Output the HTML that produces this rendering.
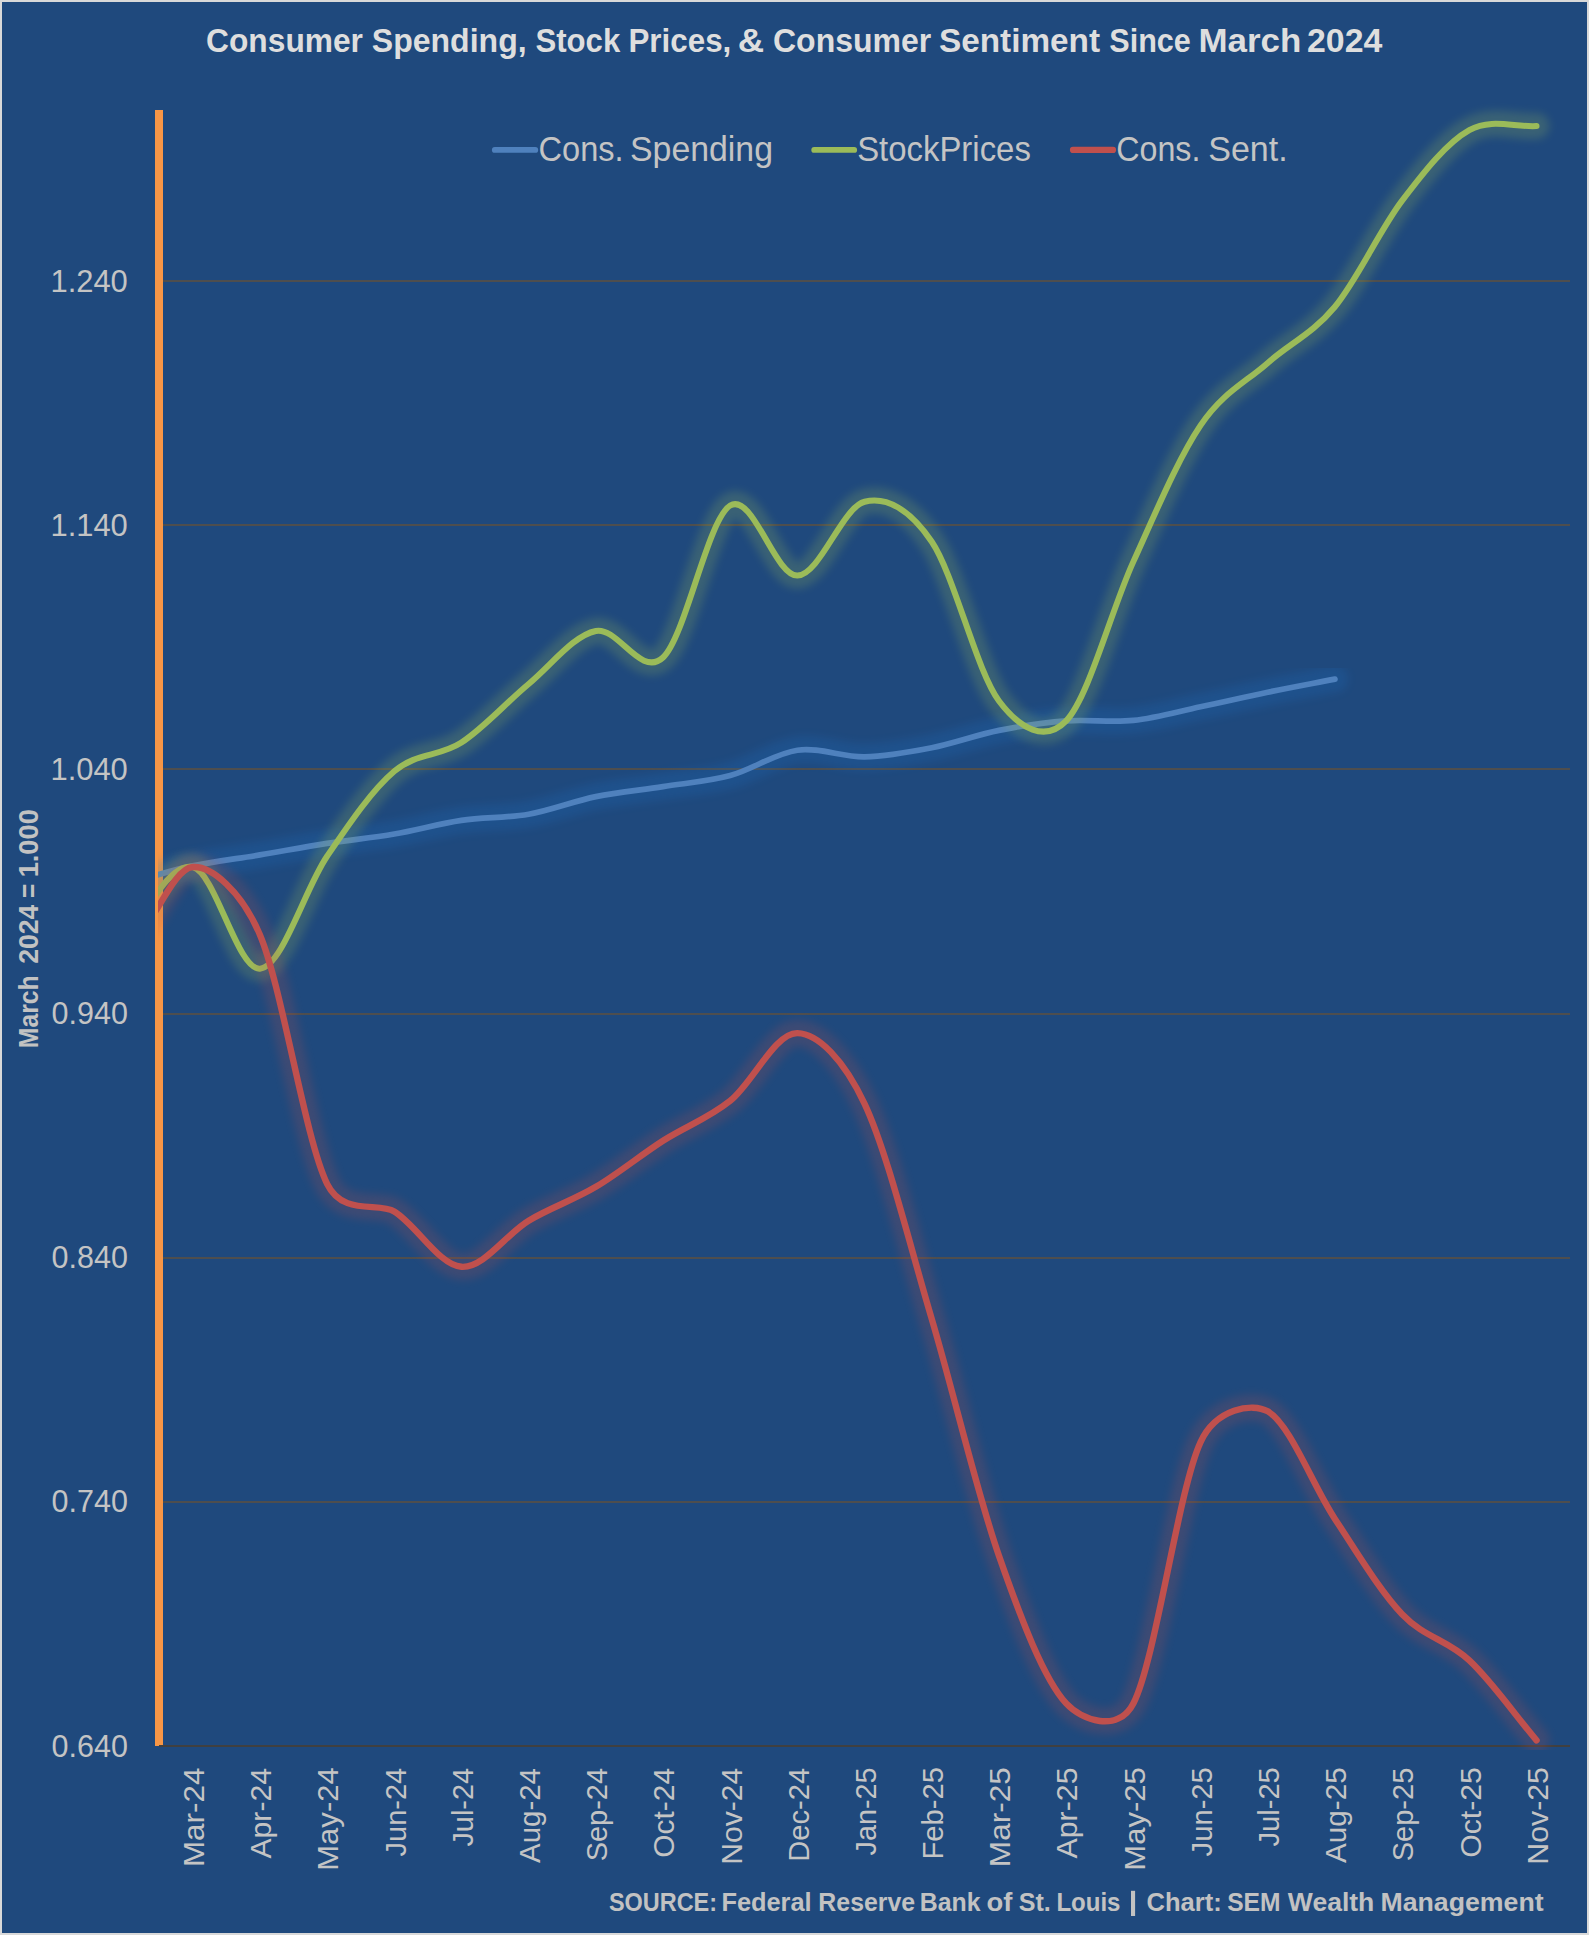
<!DOCTYPE html>
<html><head><meta charset="utf-8"><title>Consumer Spending, Stock Prices, &amp; Consumer Sentiment Since March 2024</title>
<style>
html,body{margin:0;padding:0;background:#1F497D;}
body{width:1589px;height:1935px;overflow:hidden;font-family:"Liberation Sans",sans-serif;}
svg{display:block;position:absolute;left:0;top:0;}
text{font-family:"Liberation Sans",sans-serif;}
</style></head><body>
<svg width="1589" height="1935" viewBox="0 0 1589 1935">
<defs>
<clipPath id="plot"><rect x="158.1" y="60" width="1440" height="1690"/></clipPath>
<filter id="blurG" x="-5%" y="-5%" width="110%" height="110%" filterUnits="objectBoundingBox"><feGaussianBlur stdDeviation="4.2"/></filter>
</defs>
<rect x="0" y="0" width="1589" height="1935" fill="#D9D9D9"/>
<rect x="2" y="2" width="1585" height="1931" fill="#1F497D"/>

<g fill="#4E4E4E" shape-rendering="crispEdges">
<rect x="163" y="280" width="1407" height="2"/>
<rect x="163" y="524" width="1407" height="2"/>
<rect x="163" y="768" width="1407" height="2"/>
<rect x="163" y="1013" width="1407" height="2"/>
<rect x="163" y="1257" width="1407" height="2"/>
<rect x="163" y="1501" width="1407" height="2"/>
</g>
<rect x="155" y="110" width="8" height="1636" fill="#F79646"/>
<rect x="159" y="1745" width="1411" height="2" fill="#404040"/>
<g clip-path="url(#plot)">
<path d="M58.32,895.00 C80.72,891.00 103.11,887.85 125.51,883.00 C147.91,878.15 170.30,870.58 192.70,865.90 C215.10,861.22 237.49,858.65 259.89,854.90 C282.29,851.15 304.68,846.88 327.08,843.40 C349.48,839.92 371.87,837.83 394.27,834.00 C416.67,830.17 439.06,823.70 461.46,820.40 C483.86,817.10 506.25,818.17 528.65,814.20 C551.05,810.23 573.44,801.20 595.84,796.60 C618.24,792.00 640.63,790.10 663.03,786.60 C685.43,783.10 707.82,781.67 730.22,775.60 C752.62,769.53 775.01,753.33 797.41,750.20 C819.81,747.07 842.20,757.22 864.60,756.80 C887.00,756.38 909.39,752.10 931.79,747.70 C954.19,743.30 976.58,734.87 998.98,730.40 C1021.38,725.93 1043.77,722.57 1066.17,720.90 C1088.57,719.23 1110.96,722.75 1133.36,720.40 C1155.76,718.05 1178.15,711.50 1200.55,706.80 C1222.95,702.10 1245.34,696.82 1267.74,692.20 C1290.14,687.58 1312.53,683.47 1334.93,679.10" fill="none" stroke="#1C74CC" stroke-width="27" stroke-linecap="round" stroke-linejoin="round" opacity="0.19" filter="url(#blurG)"/>
<path d="M58.32,895.00 C80.72,891.00 103.11,887.85 125.51,883.00 C147.91,878.15 170.30,870.58 192.70,865.90 C215.10,861.22 237.49,858.65 259.89,854.90 C282.29,851.15 304.68,846.88 327.08,843.40 C349.48,839.92 371.87,837.83 394.27,834.00 C416.67,830.17 439.06,823.70 461.46,820.40 C483.86,817.10 506.25,818.17 528.65,814.20 C551.05,810.23 573.44,801.20 595.84,796.60 C618.24,792.00 640.63,790.10 663.03,786.60 C685.43,783.10 707.82,781.67 730.22,775.60 C752.62,769.53 775.01,753.33 797.41,750.20 C819.81,747.07 842.20,757.22 864.60,756.80 C887.00,756.38 909.39,752.10 931.79,747.70 C954.19,743.30 976.58,734.87 998.98,730.40 C1021.38,725.93 1043.77,722.57 1066.17,720.90 C1088.57,719.23 1110.96,722.75 1133.36,720.40 C1155.76,718.05 1178.15,711.50 1200.55,706.80 C1222.95,702.10 1245.34,696.82 1267.74,692.20 C1290.14,687.58 1312.53,683.47 1334.93,679.10" fill="none" stroke="#4F81BD" stroke-width="5.7" stroke-linecap="round" stroke-linejoin="round"/>

<path d="M58.32,1056.97 C80.72,1018.15 103.11,972.17 125.51,940.51 C147.91,908.86 170.30,862.37 192.70,867.06 C215.10,871.75 237.49,970.46 259.89,968.66 C282.29,966.87 304.68,889.20 327.08,856.30 C349.48,823.40 371.87,790.24 394.27,771.28 C416.67,752.32 439.06,757.11 461.46,742.55 C483.86,728.00 506.25,702.56 528.65,683.96 C551.05,665.36 573.44,635.37 595.84,630.95 C618.24,626.53 640.63,678.35 663.03,657.45 C685.43,636.55 707.82,519.18 730.22,505.54 C752.62,491.89 775.01,576.22 797.41,575.59 C819.81,574.96 842.20,507.39 864.60,501.75 C886.46,496.24 909.93,509.32 931.79,541.73 C954.19,574.93 976.58,671.09 998.98,700.94 C1020.01,728.97 1045.14,742.63 1066.17,720.83 C1088.57,697.61 1110.96,610.86 1133.36,561.62 C1155.76,512.37 1178.15,458.47 1200.55,425.35 C1222.95,392.23 1245.34,382.65 1267.74,362.88 C1290.14,343.11 1312.53,333.75 1334.93,306.72 C1357.33,279.69 1379.72,230.11 1402.12,200.68 C1424.52,171.26 1446.91,142.61 1469.31,130.17 C1491.71,117.74 1514.10,127.42 1536.50,126.04" fill="none" stroke="#9BBB59" stroke-width="26" stroke-linecap="round" stroke-linejoin="round" opacity="0.21" filter="url(#blurG)"/>
<path d="M58.32,1056.97 C80.72,1018.15 103.11,972.17 125.51,940.51 C147.91,908.86 170.30,862.37 192.70,867.06 C215.10,871.75 237.49,970.46 259.89,968.66 C282.29,966.87 304.68,889.20 327.08,856.30 C349.48,823.40 371.87,790.24 394.27,771.28 C416.67,752.32 439.06,757.11 461.46,742.55 C483.86,728.00 506.25,702.56 528.65,683.96 C551.05,665.36 573.44,635.37 595.84,630.95 C618.24,626.53 640.63,678.35 663.03,657.45 C685.43,636.55 707.82,519.18 730.22,505.54 C752.62,491.89 775.01,576.22 797.41,575.59 C819.81,574.96 842.20,507.39 864.60,501.75 C886.46,496.24 909.93,509.32 931.79,541.73 C954.19,574.93 976.58,671.09 998.98,700.94 C1020.01,728.97 1045.14,742.63 1066.17,720.83 C1088.57,697.61 1110.96,610.86 1133.36,561.62 C1155.76,512.37 1178.15,458.47 1200.55,425.35 C1222.95,392.23 1245.34,382.65 1267.74,362.88 C1290.14,343.11 1312.53,333.75 1334.93,306.72 C1357.33,279.69 1379.72,230.11 1402.12,200.68 C1424.52,171.26 1446.91,142.61 1469.31,130.17 C1491.71,117.74 1514.10,127.42 1536.50,126.04" fill="none" stroke="#9BBB59" stroke-width="6.0" stroke-linecap="round" stroke-linejoin="round"/>

<path d="M58.32,879.36 C80.72,900.88 103.11,945.98 125.51,943.93 C147.91,941.88 170.30,868.60 192.70,867.06 C211.32,865.78 241.27,890.82 259.89,934.71 C282.29,987.50 304.68,1137.65 327.08,1183.78 C342.95,1216.46 378.40,1201.65 394.27,1211.45 C416.67,1225.29 439.06,1265.26 461.46,1266.80 C483.86,1268.34 506.25,1234.00 528.65,1220.68 C551.05,1207.35 573.44,1200.18 595.84,1186.85 C618.24,1173.53 640.63,1155.08 663.03,1140.73 C685.43,1126.38 707.82,1118.69 730.22,1100.76 C752.62,1082.82 775.01,1032.59 797.41,1033.11 C818.15,1033.58 843.86,1059.69 864.60,1103.83 C887.00,1151.49 909.39,1243.74 931.79,1319.08 C954.19,1394.41 976.58,1491.78 998.98,1555.85 C1021.38,1619.91 1043.77,1678.84 1066.17,1703.44 C1081.53,1720.31 1118.00,1733.32 1133.36,1703.44 C1155.76,1659.88 1178.15,1490.76 1200.55,1442.07 C1215.99,1408.51 1252.30,1402.49 1267.74,1411.32 C1290.14,1424.14 1312.53,1485.12 1334.93,1518.95 C1357.33,1552.77 1379.72,1590.70 1402.12,1614.27 C1424.52,1637.84 1446.91,1639.38 1469.31,1660.39 C1491.71,1681.41 1514.10,1713.69 1536.50,1740.34" fill="none" stroke="#C0504D" stroke-width="26.5" stroke-linecap="round" stroke-linejoin="round" opacity="0.185" filter="url(#blurG)"/>
<path d="M58.32,879.36 C80.72,900.88 103.11,945.98 125.51,943.93 C147.91,941.88 170.30,868.60 192.70,867.06 C211.32,865.78 241.27,890.82 259.89,934.71 C282.29,987.50 304.68,1137.65 327.08,1183.78 C342.95,1216.46 378.40,1201.65 394.27,1211.45 C416.67,1225.29 439.06,1265.26 461.46,1266.80 C483.86,1268.34 506.25,1234.00 528.65,1220.68 C551.05,1207.35 573.44,1200.18 595.84,1186.85 C618.24,1173.53 640.63,1155.08 663.03,1140.73 C685.43,1126.38 707.82,1118.69 730.22,1100.76 C752.62,1082.82 775.01,1032.59 797.41,1033.11 C818.15,1033.58 843.86,1059.69 864.60,1103.83 C887.00,1151.49 909.39,1243.74 931.79,1319.08 C954.19,1394.41 976.58,1491.78 998.98,1555.85 C1021.38,1619.91 1043.77,1678.84 1066.17,1703.44 C1081.53,1720.31 1118.00,1733.32 1133.36,1703.44 C1155.76,1659.88 1178.15,1490.76 1200.55,1442.07 C1215.99,1408.51 1252.30,1402.49 1267.74,1411.32 C1290.14,1424.14 1312.53,1485.12 1334.93,1518.95 C1357.33,1552.77 1379.72,1590.70 1402.12,1614.27 C1424.52,1637.84 1446.91,1639.38 1469.31,1660.39 C1491.71,1681.41 1514.10,1713.69 1536.50,1740.34" fill="none" stroke="#C0504D" stroke-width="6.4" stroke-linecap="round" stroke-linejoin="round"/>

</g>
<line x1="494.8" y1="149.9" x2="535.3" y2="149.9" stroke="#4F81BD" stroke-width="5.8" stroke-linecap="round"/>
<line x1="814.2" y1="149.9" x2="854.2" y2="149.9" stroke="#9BBB59" stroke-width="5.8" stroke-linecap="round"/>
<line x1="1073.0" y1="149.9" x2="1113.0" y2="149.9" stroke="#C0504D" stroke-width="6.2" stroke-linecap="round"/>
<text x="206.09" y="52.30" font-size="34" fill="#DEDEDE" textLength="156.86" lengthAdjust="spacingAndGlyphs" font-weight="bold">Consumer</text>
<text x="371.81" y="52.30" font-size="34" fill="#DEDEDE" textLength="154.80" lengthAdjust="spacingAndGlyphs" font-weight="bold">Spending,</text>
<text x="535.38" y="52.30" font-size="34" fill="#DEDEDE" textLength="84.83" lengthAdjust="spacingAndGlyphs" font-weight="bold">Stock</text>
<text x="628.45" y="52.30" font-size="34" fill="#DEDEDE" textLength="102.86" lengthAdjust="spacingAndGlyphs" font-weight="bold">Prices,</text>
<text x="737.78" y="52.30" font-size="34" fill="#DEDEDE" textLength="26.43" lengthAdjust="spacingAndGlyphs" font-weight="bold">&amp;</text>
<text x="773.01" y="52.30" font-size="34" fill="#DEDEDE" textLength="158.28" lengthAdjust="spacingAndGlyphs" font-weight="bold">Consumer</text>
<text x="938.90" y="52.30" font-size="34" fill="#DEDEDE" textLength="161.20" lengthAdjust="spacingAndGlyphs" font-weight="bold">Sentiment</text>
<text x="1109.26" y="52.30" font-size="34" fill="#DEDEDE" textLength="81.55" lengthAdjust="spacingAndGlyphs" font-weight="bold">Since</text>
<text x="1198.49" y="52.30" font-size="34" fill="#DEDEDE" textLength="102.89" lengthAdjust="spacingAndGlyphs" font-weight="bold">March</text>
<text x="1307.03" y="52.30" font-size="34" fill="#DEDEDE" textLength="75.31" lengthAdjust="spacingAndGlyphs" font-weight="bold">2024</text>
<text x="538.58" y="160.80" font-size="34.3" fill="#C4C4C4" textLength="84.96" lengthAdjust="spacingAndGlyphs">Cons.</text>
<text x="630.06" y="160.80" font-size="34.3" fill="#C4C4C4" textLength="142.96" lengthAdjust="spacingAndGlyphs">Spending</text>
<text x="857.14" y="160.80" font-size="34.3" fill="#C4C4C4" textLength="173.73" lengthAdjust="spacingAndGlyphs">StockPrices</text>
<text x="1116.29" y="160.80" font-size="34.3" fill="#C4C4C4" textLength="84.14" lengthAdjust="spacingAndGlyphs">Cons.</text>
<text x="1208.26" y="160.80" font-size="34.3" fill="#C4C4C4" textLength="79.37" lengthAdjust="spacingAndGlyphs">Sent.</text>
<text x="51.58" y="1756.60" font-size="31" fill="#C4C4C4" textLength="76.28" lengthAdjust="spacingAndGlyphs">0.640</text>
<text x="51.58" y="1512.45" font-size="31" fill="#C4C4C4" textLength="76.28" lengthAdjust="spacingAndGlyphs">0.740</text>
<text x="51.58" y="1268.30" font-size="31" fill="#C4C4C4" textLength="76.28" lengthAdjust="spacingAndGlyphs">0.840</text>
<text x="51.58" y="1024.15" font-size="31" fill="#C4C4C4" textLength="76.28" lengthAdjust="spacingAndGlyphs">0.940</text>
<text x="50.46" y="780.00" font-size="31" fill="#C4C4C4" textLength="77.35" lengthAdjust="spacingAndGlyphs">1.040</text>
<text x="50.46" y="535.85" font-size="31" fill="#C4C4C4" textLength="77.35" lengthAdjust="spacingAndGlyphs">1.140</text>
<text x="50.46" y="291.70" font-size="31" fill="#C4C4C4" textLength="77.35" lengthAdjust="spacingAndGlyphs">1.240</text>
<text x="204.00" y="1867.11" font-size="30.3" fill="#C4C4C4" textLength="99.46" lengthAdjust="spacingAndGlyphs" transform="rotate(-90 204.00 1867.11)">Mar-24</text>
<text x="271.19" y="1858.58" font-size="30.3" fill="#C4C4C4" textLength="90.59" lengthAdjust="spacingAndGlyphs" transform="rotate(-90 271.19 1858.58)">Apr-24</text>
<text x="338.38" y="1870.71" font-size="30.3" fill="#C4C4C4" textLength="103.43" lengthAdjust="spacingAndGlyphs" transform="rotate(-90 338.38 1870.71)">May-24</text>
<text x="405.57" y="1856.38" font-size="30.3" fill="#C4C4C4" textLength="88.62" lengthAdjust="spacingAndGlyphs" transform="rotate(-90 405.57 1856.38)">Jun-24</text>
<text x="472.76" y="1846.58" font-size="30.3" fill="#C4C4C4" textLength="78.61" lengthAdjust="spacingAndGlyphs" transform="rotate(-90 472.76 1846.58)">Jul-24</text>
<text x="539.95" y="1862.99" font-size="30.3" fill="#C4C4C4" textLength="95.01" lengthAdjust="spacingAndGlyphs" transform="rotate(-90 539.95 1862.99)">Aug-24</text>
<text x="607.14" y="1861.26" font-size="30.3" fill="#C4C4C4" textLength="93.32" lengthAdjust="spacingAndGlyphs" transform="rotate(-90 607.14 1861.26)">Sep-24</text>
<text x="674.33" y="1857.84" font-size="30.3" fill="#C4C4C4" textLength="89.90" lengthAdjust="spacingAndGlyphs" transform="rotate(-90 674.33 1857.84)">Oct-24</text>
<text x="741.52" y="1864.71" font-size="30.3" fill="#C4C4C4" textLength="96.82" lengthAdjust="spacingAndGlyphs" transform="rotate(-90 741.52 1864.71)">Nov-24</text>
<text x="808.71" y="1861.71" font-size="30.3" fill="#C4C4C4" textLength="93.83" lengthAdjust="spacingAndGlyphs" transform="rotate(-90 808.71 1861.71)">Dec-24</text>
<text x="875.90" y="1855.49" font-size="30.3" fill="#C4C4C4" textLength="88.05" lengthAdjust="spacingAndGlyphs" transform="rotate(-90 875.90 1855.49)">Jan-25</text>
<text x="943.09" y="1859.61" font-size="30.3" fill="#C4C4C4" textLength="92.54" lengthAdjust="spacingAndGlyphs" transform="rotate(-90 943.09 1859.61)">Feb-25</text>
<text x="1010.28" y="1867.11" font-size="30.3" fill="#C4C4C4" textLength="100.05" lengthAdjust="spacingAndGlyphs" transform="rotate(-90 1010.28 1867.11)">Mar-25</text>
<text x="1077.47" y="1858.58" font-size="30.3" fill="#C4C4C4" textLength="91.13" lengthAdjust="spacingAndGlyphs" transform="rotate(-90 1077.47 1858.58)">Apr-25</text>
<text x="1144.66" y="1870.71" font-size="30.3" fill="#C4C4C4" textLength="103.62" lengthAdjust="spacingAndGlyphs" transform="rotate(-90 1144.66 1870.71)">May-25</text>
<text x="1211.85" y="1856.38" font-size="30.3" fill="#C4C4C4" textLength="89.19" lengthAdjust="spacingAndGlyphs" transform="rotate(-90 1211.85 1856.38)">Jun-25</text>
<text x="1279.04" y="1846.58" font-size="30.3" fill="#C4C4C4" textLength="79.40" lengthAdjust="spacingAndGlyphs" transform="rotate(-90 1279.04 1846.58)">Jul-25</text>
<text x="1346.23" y="1862.99" font-size="30.3" fill="#C4C4C4" textLength="95.80" lengthAdjust="spacingAndGlyphs" transform="rotate(-90 1346.23 1862.99)">Aug-25</text>
<text x="1413.42" y="1861.26" font-size="30.3" fill="#C4C4C4" textLength="93.60" lengthAdjust="spacingAndGlyphs" transform="rotate(-90 1413.42 1861.26)">Sep-25</text>
<text x="1480.61" y="1857.84" font-size="30.3" fill="#C4C4C4" textLength="90.71" lengthAdjust="spacingAndGlyphs" transform="rotate(-90 1480.61 1857.84)">Oct-25</text>
<text x="1547.80" y="1864.71" font-size="30.3" fill="#C4C4C4" textLength="97.63" lengthAdjust="spacingAndGlyphs" transform="rotate(-90 1547.80 1864.71)">Nov-25</text>
<text x="38.30" y="1048.16" font-size="27.3" fill="#C2C2C2" textLength="72.87" lengthAdjust="spacingAndGlyphs" font-weight="bold" transform="rotate(-90 38.30 1048.16)">March</text>
<text x="38.30" y="963.87" font-size="27.3" fill="#C2C2C2" textLength="59.05" lengthAdjust="spacingAndGlyphs" font-weight="bold" transform="rotate(-90 38.30 963.87)">2024</text>
<text x="38.30" y="898.01" font-size="27.3" fill="#C2C2C2" textLength="14.35" lengthAdjust="spacingAndGlyphs" font-weight="bold" transform="rotate(-90 38.30 898.01)">=</text>
<text x="38.30" y="877.37" font-size="27.3" fill="#C2C2C2" textLength="68.16" lengthAdjust="spacingAndGlyphs" font-weight="bold" transform="rotate(-90 38.30 877.37)">1.000</text>
<text x="608.89" y="1911.00" font-size="26.5" fill="#C2C2C2" textLength="108.14" lengthAdjust="spacingAndGlyphs" font-weight="bold">SOURCE:</text>
<text x="721.42" y="1911.00" font-size="26.5" fill="#C2C2C2" textLength="90.25" lengthAdjust="spacingAndGlyphs" font-weight="bold">Federal</text>
<text x="818.36" y="1911.00" font-size="26.5" fill="#C2C2C2" textLength="96.84" lengthAdjust="spacingAndGlyphs" font-weight="bold">Reserve</text>
<text x="919.78" y="1911.00" font-size="26.5" fill="#C2C2C2" textLength="60.68" lengthAdjust="spacingAndGlyphs" font-weight="bold">Bank</text>
<text x="986.60" y="1911.00" font-size="26.5" fill="#C2C2C2" textLength="25.85" lengthAdjust="spacingAndGlyphs" font-weight="bold">of</text>
<text x="1018.70" y="1911.00" font-size="26.5" fill="#C2C2C2" textLength="32.08" lengthAdjust="spacingAndGlyphs" font-weight="bold">St.</text>
<text x="1056.40" y="1911.00" font-size="26.5" fill="#C2C2C2" textLength="64.06" lengthAdjust="spacingAndGlyphs" font-weight="bold">Louis</text>
<text x="1146.61" y="1911.00" font-size="26.5" fill="#C2C2C2" textLength="75.12" lengthAdjust="spacingAndGlyphs" font-weight="bold">Chart:</text>
<text x="1227.19" y="1911.00" font-size="26.5" fill="#C2C2C2" textLength="53.32" lengthAdjust="spacingAndGlyphs" font-weight="bold">SEM</text>
<text x="1287.86" y="1911.00" font-size="26.5" fill="#C2C2C2" textLength="86.46" lengthAdjust="spacingAndGlyphs" font-weight="bold">Wealth</text>
<text x="1380.52" y="1911.00" font-size="26.5" fill="#C2C2C2" textLength="163.08" lengthAdjust="spacingAndGlyphs" font-weight="bold">Management</text>
<rect x="1131" y="1890.8" width="4.1" height="25.2" fill="#C2C2C2"/>
</svg></body></html>
